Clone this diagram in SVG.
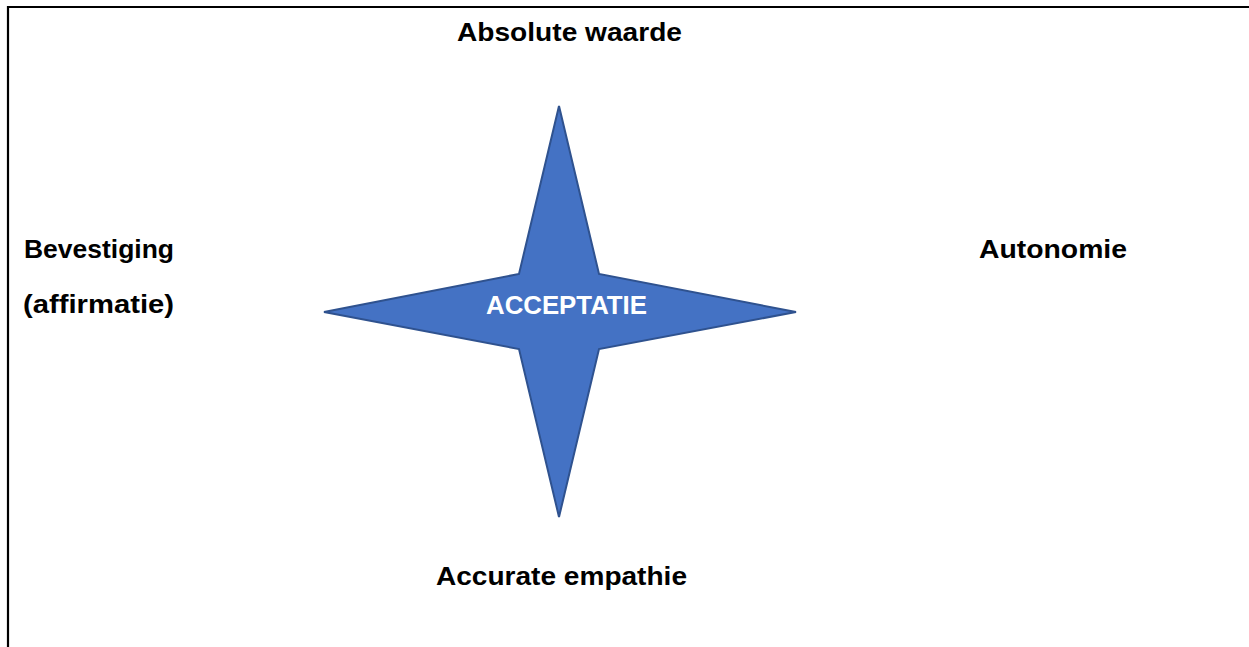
<svg xmlns="http://www.w3.org/2000/svg" width="1249" height="647" viewBox="0 0 1249 647">
<style>
.lbl{font-family:"Liberation Sans",Arial,sans-serif;font-weight:bold;font-size:26px;fill:#000}
.star{fill:#4472C4;stroke:#2F528F;stroke-width:2;stroke-linejoin:miter}
.center{font-family:"Liberation Sans",Arial,sans-serif;font-weight:bold;font-size:25px;fill:#fff}
</style>
<rect width="1249" height="647" fill="#fff"/>
<g id="frame">
<path d="M8 647 V7 H1249" fill="none" stroke="#000" stroke-width="2.2"/>
</g>
<g id="star">
<polygon class="star" points="559,106 599,274 796,312 599,349 559,517 519,349 324,312 519,274"/>
<text class="center" x="566.5" y="314" text-anchor="middle" textLength="161" lengthAdjust="spacingAndGlyphs">ACCEPTATIE</text>
</g>
<g id="top"><text class="lbl" x="457" y="41" textLength="225" lengthAdjust="spacingAndGlyphs">Absolute waarde</text></g>
<g id="left">
<text class="lbl" x="24" y="258" textLength="150" lengthAdjust="spacingAndGlyphs">Bevestiging</text>
<text class="lbl" x="23" y="313" textLength="151" lengthAdjust="spacingAndGlyphs">(affirmatie)</text>
</g>
<g id="right"><text class="lbl" x="979" y="258" textLength="148" lengthAdjust="spacingAndGlyphs">Autonomie</text></g>
<g id="bottom"><text class="lbl" x="436" y="585" textLength="251" lengthAdjust="spacingAndGlyphs">Accurate empathie</text></g>
<g id="connectors"/>
</svg>
